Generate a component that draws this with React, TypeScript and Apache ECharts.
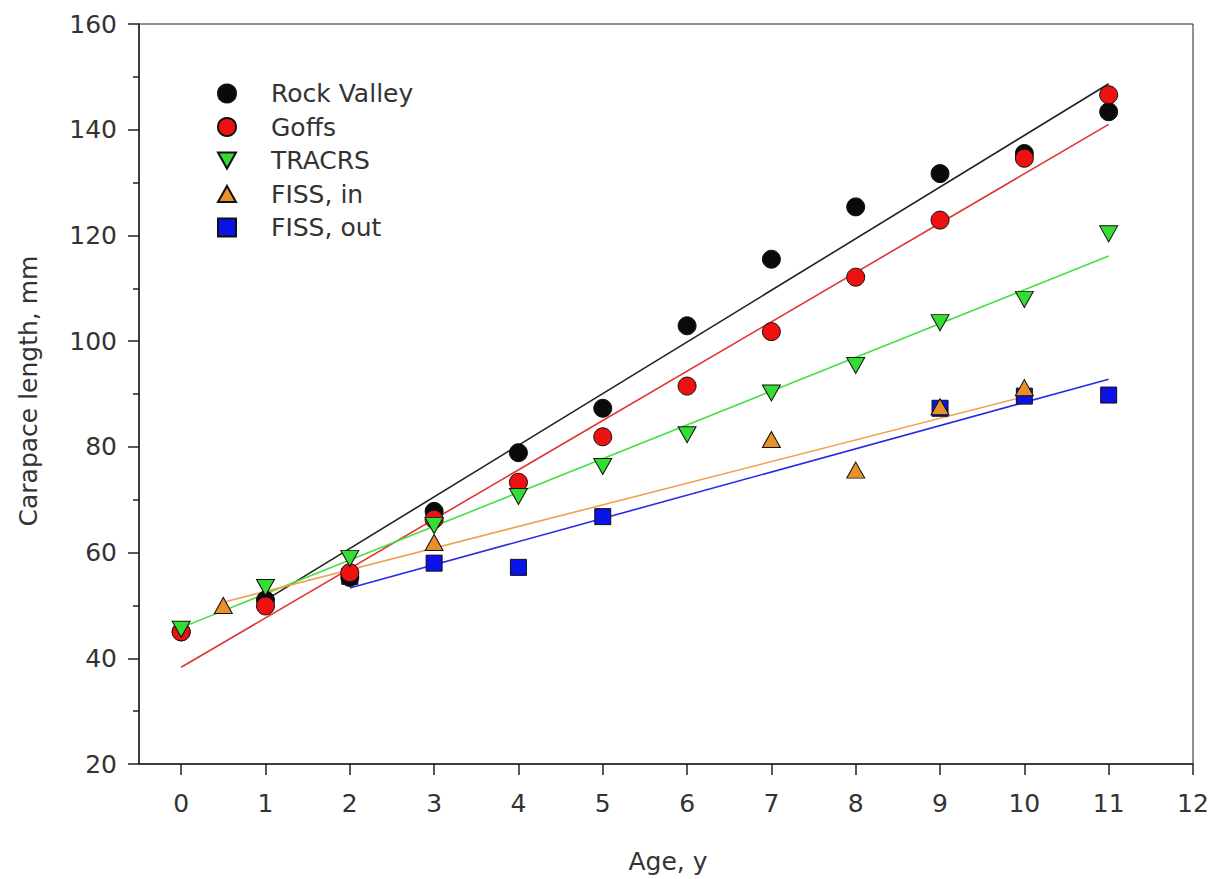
import React, { useEffect, useRef } from "react";
import * as echarts from "echarts";

const ages = [0, 1, 2, 3, 4, 5, 6, 7, 8, 9, 10, 11];
const rockValley = [45, 51, 55.3, 67.8, 78.9, 87.3, 102.9, 115.5, 125.4, 131.7, 135.5, 143.4];
const goffs = [45, 49.9, 56.2, 66.3, 73.3, 81.9, 91.5, 101.8, 112.1, 122.9, 134.6, 146.6];
const tracrs = [45.5, 53.4, 58.9, 65.1, 70.6, 76.3, 82.3, 90.2, 95.4, 103.5, 107.9, 120.3];
const fissInAges = [0.5, 3, 7, 8, 9, 10];
const fissIn = [50.0, 61.9, 81.4, 75.6, 87.6, 91.2];
const fissOutAges = [2, 3, 4, 5, 9, 10, 11];
const fissOut = [55.5, 58.0, 57.2, 66.8, 87.3, 89.6, 89.8];

const rvFit = [[1, 51.0], [11, 148.7]];
const goffsFit = [[0, 38.3], [11, 141.0]];
const tracrsFit = [[0, 45.8], [11, 116.1]];
const fissInFit = [[0.5, 50.6], [10, 89.5]];
const fissOutFit = [[2, 53.3], [11, 92.8]];

const xTicks = [0, 1, 2, 3, 4, 5, 6, 7, 8, 9, 10, 11, 12];

const FONT = "DejaVu Sans";
const TRI_DOWN = "path://M0,0 L10,0 L5,9 Z";
const TRI_UP = "path://M5,0 L10,9 L0,9 Z";

const pairs = (xs: number[], ys: number[]) => xs.map((x, i) => [x, ys[i]]);

export default function App() {
  const ref = useRef<HTMLDivElement>(null);
  useEffect(() => {
    document.body.style.margin = "0";
    const chart = echarts.init(ref.current!, null, { renderer: "svg" });
    const border = { borderColor: "#111", borderWidth: 1, opacity: 1 };
    const fitLine = (name: string, data: number[][], color: string) => ({
      name,
      type: "line",
      data,
      symbol: "none",
      lineStyle: { color, width: 1.6 },
      z: 2,
      silent: true,
    });
    const scatter = (name: string, data: number[][], symbol: string, size: number | number[], color: string) => ({
      name,
      type: "scatter",
      data,
      symbol,
      symbolSize: size,
      itemStyle: { color, ...border },
      z: 3,
    });
    chart.setOption({
      animation: false,
      backgroundColor: "#fff",
      textStyle: { fontFamily: FONT },
      grid: {
        left: 139,
        right: 19,
        top: 24,
        bottom: 115,
        show: true,
        borderColor: "#222",
        borderWidth: 1,
        backgroundColor: "transparent",
      },
      legend: {
        orient: "vertical",
        left: 212,
        top: 76,
        itemWidth: 18,
        itemHeight: 18,
        itemGap: 8.5,
        textStyle: { fontFamily: FONT, fontSize: 25, color: "#333", padding: [0, 0, 0, 30] },
        data: [
          { name: "Rock Valley", icon: "circle" },
          { name: "Goffs", icon: "circle" },
          { name: "TRACRS", icon: TRI_DOWN },
          { name: "FISS, in", icon: TRI_UP },
          { name: "FISS, out", icon: "rect" },
        ],
      },
      xAxis: {
        type: "value",
        min: -0.5,
        max: 12,
        axisLine: { onZero: false, lineStyle: { color: "#222", width: 1.5 } },
        axisTick: { show: true, length: 11, customValues: xTicks, lineStyle: { color: "#222", width: 1.5 } },
        axisLabel: { customValues: xTicks, fontSize: 25, color: "#333", margin: 27, fontFamily: FONT },
        splitLine: { show: false },
      },
      yAxis: {
        type: "value",
        min: 20,
        max: 160,
        interval: 20,
        axisLine: { show: true, onZero: false, lineStyle: { color: "#222", width: 1.5 } },
        axisTick: { show: true, length: 11, lineStyle: { color: "#222", width: 1.5 } },
        minorTick: { show: true, splitNumber: 2, length: 6, lineStyle: { color: "#222", width: 1.5 } },
        axisLabel: { fontSize: 25, color: "#333", margin: 22, fontFamily: FONT },
        splitLine: { show: false },
      },
      graphic: [
        {
          type: "text",
          x: 668,
          y: 861,
          style: { text: "Age, y", font: `25px "${FONT}"`, fill: "#333", align: "center", verticalAlign: "middle" },
        },
        {
          type: "text",
          x: 28,
          y: 391,
          rotation: Math.PI / 2,
          style: { text: "Carapace length, mm", font: `25px "${FONT}"`, fill: "#333", align: "center", verticalAlign: "middle" },
        },
      ],
      series: [
        fitLine("RV fit", rvFit, "#222"),
        fitLine("Goffs fit", goffsFit, "#e03333"),
        fitLine("TRACRS fit", tracrsFit, "#44e044"),
        fitLine("FISS in fit", fissInFit, "#f0a050"),
        fitLine("FISS out fit", fissOutFit, "#2a2ae6"),
        scatter("FISS, out", pairs(fissOutAges, fissOut), "rect", 16, "#0a14e6"),
        scatter("Rock Valley", pairs(ages, rockValley), "circle", 18, "#0a0a0a"),
        scatter("Goffs", pairs(ages, goffs), "circle", 18, "#ee1111"),
        scatter("TRACRS", pairs(ages, tracrs), TRI_DOWN, [18, 16], "#33dd33"),
        scatter("FISS, in", pairs(fissInAges, fissIn), TRI_UP, [18, 16], "#e8902a"),
      ],
    });
    return () => chart.dispose();
  }, []);
  return <div ref={ref} style={{ width: 1212, height: 879 }} />;
}
